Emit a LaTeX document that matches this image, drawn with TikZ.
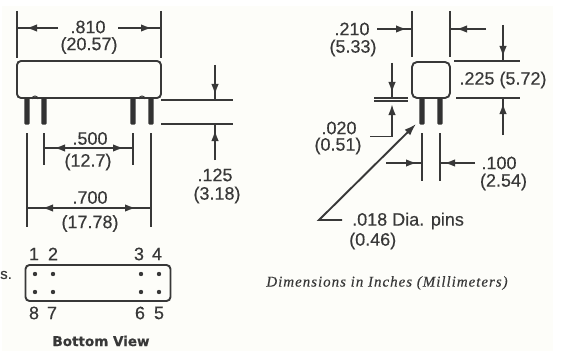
\documentclass[tikz,border=0pt]{standalone}
\usepackage{fontspec}
\setmainfont{Liberation Sans}[FakeBold=0.4,AutoFakeBold=false]
\newfontfamily\mainlab{Liberation Sans}[FakeBold=0.35]
\newfontfamily\capfont{Liberation Serif}[LetterSpace=6.5,FakeBold=0.3]
\newfontfamily\capit{Liberation Serif Italic}[LetterSpace=6.5,FakeBold=0.3]
\newfontfamily\viewfont{DejaVu Sans Bold}[FakeBold=0.5]
\usetikzlibrary{arrows.meta,decorations.markings}
\definecolor{ink}{HTML}{383838}
\definecolor{paper}{HTML}{FDFDF9}
\tikzset{
  x=1pt,y=-1pt,
  ln/.style={draw=ink,line width=1.9pt},
  pin/.style={draw=none,fill=ink!90!black,rounded corners=1pt},
  mtip/.style={ln,decoration={markings,mark=at position #1 with {\arrow{Latex[length=11pt,width=7.5pt,color=ink]}}},postaction=decorate},
  lab/.style={text=ink,inner sep=0pt,font=\mainlab\fontsize{18}{20}\selectfont,anchor=center},
  pnum/.style={text=ink,inner sep=0pt,font=\mainlab\fontsize{18}{20}\selectfont,anchor=center},
  hole/.style={circle,fill=ink,inner sep=0pt,minimum size=4.4pt},
}
\begin{document}
\begin{tikzpicture}
\useasboundingbox (0,0) rectangle (565,361);
\fill[white] (0,0) rectangle (565,361);
\fill[paper] (2,6) rectangle (553,351);

% ---------- side view
\node[ln,rounded corners=4pt,minimum width=144pt,minimum height=37pt,inner sep=0pt] (body) at (89,79.5) {};
\foreach \n/\x in {a/27,b/44,c/133,d/151}{
  \fill[pin] (\x-2.6,98) rectangle (\x+2.6,124.5);
  \coordinate (\n1) at (\x,133);
}
\foreach \x in {35,142}{\draw[ln,line width=1pt] (\x-3,99) arc[start angle=180,end angle=360,radius=3];}
\coordinate (w1) at (17,11); \coordinate (w2) at (17,58);
\coordinate (w3) at (161,11); \coordinate (w4) at (161,58);
\draw[ln] (w1)--(w2); \draw[ln] (w3)--(w4);
\coordinate (w5) at (58,28); \coordinate (w6) at (17,28);
\coordinate (w7) at (118,28); \coordinate (w8) at (161,28);
\draw[mtip=32pt] (w5)--(w6);
\draw[mtip=34pt] (w7)--(w8);
\node[lab] (t810) at (88,27) {.810};
\node[lab] (t2057) at (89,45.5) {(20.57)};

\coordinate (a2) at (27,227); \coordinate (b2) at (44,165);
\coordinate (c2) at (133,165); \coordinate (d2) at (151,227);
\draw[ln] (a1)--(a2); \draw[ln] (b1)--(b2); \draw[ln] (c1)--(c2); \draw[ln] (d1)--(d2);
\coordinate (m5) at (89,148);
\draw[mtip=35pt] (m5)--(b1|-m5);
\draw[mtip=35pt] (m5)--(c1|-m5);
\node[lab] (t500) at (90,138.5) {.500};
\node[lab] (t127) at (88,162) {(12.7)};
\coordinate (m7) at (89,208);
\draw[mtip=47pt] (m7)--(a1|-m7);
\draw[mtip=47pt] (m7)--(d1|-m7);
\node[lab] (t700) at (90,197.5) {.700};
\node[lab] (t1778) at (90,223.5) {(17.78)};

\coordinate (h1) at (161,100); \coordinate (h2) at (233,100);
\coordinate (h3) at (161,124); \coordinate (h4) at (233,124);
\draw[ln] (h1)--(h2); \draw[ln] (h3)--(h4);
\coordinate (h5) at (215,65); \coordinate (h6) at (215,100);
\coordinate (h7) at (215,160); \coordinate (h8) at (215,124);
\draw[mtip=30pt] (h5)--(h6);
\draw[mtip=30pt] (h7)--(h8);
\node[lab] (t125) at (215,175) {.125};
\node[lab] (t318) at (217,195) {(3.18)};

% ---------- bottom view
\node[ln,rounded corners=4pt,minimum width=145pt,minimum height=36pt,inner sep=0pt] (bot) at (98,283) {};
\foreach \x in {35,53,141,159}\foreach \y in {274,292}{\node[hole] at (\x,\y) {};}
\node[pnum] (n1) at (34,254) {1};
\node[pnum] (n2) at (53,254) {2};
\node[pnum] (n3) at (139,254) {3};
\node[pnum] (n4) at (157,254) {4};
\node[pnum] (n8) at (34,313) {8};
\node[pnum] (n7) at (52,313) {7};
\node[pnum] (n6) at (140,313) {6};
\node[pnum] (n5) at (159,313) {5};
\node[text=ink,inner sep=0pt,font=\viewfont\fontsize{13.5}{15}\selectfont] (view) at (101,341) {Bottom View};
\node[lab,anchor=west,font=\mainlab\fontsize{15}{17}\selectfont] (frag) at (0,275) {s.};

% ---------- end view
\node[ln,rounded corners=5pt,minimum width=38pt,minimum height=36pt,inner sep=0pt] (end) at (431,80) {};
\foreach \n/\x in {e/422,f/440}{
  \fill[pin] (\x-2.6,98) rectangle (\x+2.6,124.5);
  \coordinate (\n1) at (\x,133); \coordinate (\n2) at (\x,181);
}
\draw[ln] (e1)--(e2); \draw[ln] (f1)--(f2);
\coordinate (x1) at (412,11); \coordinate (x2) at (412,57);
\coordinate (x3) at (450,11); \coordinate (x4) at (450,57);
\draw[ln] (x1)--(x2); \draw[ln] (x3)--(x4);
\coordinate (x5) at (377,29); \coordinate (x6) at (412,29);
\coordinate (x7) at (486,29); \coordinate (x8) at (450,29);
\draw[mtip=30pt] (x5)--(x6);
\draw[mtip=30pt] (x7)--(x8);
\node[lab] (t210) at (352,29) {.210};
\node[lab] (t533) at (353,48) {(5.33)};

\coordinate (y1) at (454,61); \coordinate (y2) at (520,61);
\coordinate (y3) at (456,98); \coordinate (y4) at (520,98);
\draw[ln] (y1)--(y2); \draw[ln] (y3)--(y4);
\coordinate (y5) at (503,25); \coordinate (y6) at (503,61);
\coordinate (y7) at (503,135); \coordinate (y8) at (503,98);
\draw[mtip=32pt] (y5)--(y6);
\draw[mtip=32pt] (y7)--(y8);
\node[lab] (t225) at (503,80) {.225 (5.72)};

\coordinate (z1) at (374,98); \coordinate (z2) at (408,98);
\coordinate (z3) at (374,101); \coordinate (z4) at (408,101);
\draw[ln] (z1)--(z2); \draw[ln] (z3)--(z4);
\coordinate (z5) at (392,63); \coordinate (z6) at (392,98);
\coordinate (z7) at (370,136.5); \coordinate (z8) at (392,136.5); \coordinate (z9) at (392,101);
\draw[mtip=30pt] (z5)--(z6);
\draw[ln] (z7)--(z8);
\draw[ln,-{Latex[length=11pt,width=7.5pt,color=ink]},shorten >=3pt] (z8)--(z9);
\node[lab] (t020) at (339,128) {.020};
\node[lab] (t051) at (338,146) {(0.51)};

\coordinate (v1) at (386,163); \coordinate (v2) at (422,163);
\coordinate (v3) at (475,163); \coordinate (v4) at (440,163);
\draw[mtip=31pt] (v1)--(v2);
\draw[mtip=31pt] (v3)--(v4);
\node[lab] (t100) at (499,163) {.100};
\node[lab] (t254) at (503.5,182) {(2.54)};

\coordinate (l1) at (342,220); \coordinate (l2) at (319,220); \coordinate (l3) at (416,124);
\draw[ln,-{Latex[length=12pt,width=8pt,color=ink]}] (l1)--(l2)--(l3);
\node[lab,anchor=west] (t018) at (352,221) {.018 Dia. pins};
\node[lab,anchor=west] (t046) at (349,241) {(0.46)};

\node[text=ink,inner sep=0pt,font=\capit\fontsize{15}{17}\selectfont] (cap) at (387,283) {Dimensions in Inches (Millimeters)};
\end{tikzpicture}
\end{document}
